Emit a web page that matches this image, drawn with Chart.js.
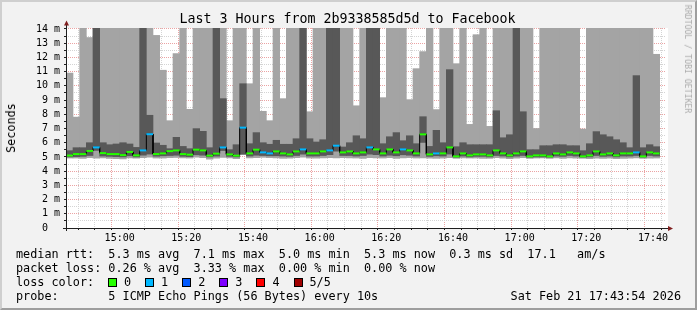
<!DOCTYPE html>
<html>
<head>
<meta charset="utf-8">
<script src="https://cdn.jsdelivr.net/npm/chart.js@4.4.1/dist/chart.umd.min.js"></script>
<style>
html,body{margin:0;padding:0;background:#f2f2f2;overflow:hidden;}
#wrap{position:relative;width:697px;height:310px;background:#f2f2f2;overflow:hidden;}
#c{position:absolute;left:0;top:0;}
.t{position:absolute;font-family:"DejaVu Sans Mono",monospace;color:#000;white-space:pre;}
.leg{font-size:11.8px;line-height:14px;}
.box{position:absolute;width:9px;height:9px;box-sizing:border-box;border:1px solid #000;}
#shade{position:absolute;left:0;top:0;width:697px;height:310px;box-sizing:border-box;border-style:solid;border-width:2px;border-color:#cfcfcf #9e9e9e #9e9e9e #cfcfcf;pointer-events:none;}
</style>
</head>
<body>
<div id="wrap">
<canvas id="c" width="697" height="310"></canvas>
<div class="t" id="title" style="left:-1px;width:697px;text-align:center;top:10.5px;font-size:13.3px;line-height:16px;">Last 3 Hours from 2b9338585d5d to Facebook</div>
<div class="t" id="ylab" style="left:11px;top:128px;font-size:11.8px;line-height:14px;transform:translate(-50%,-50%) rotate(-90deg);">Seconds</div>
<div class="t" id="wm" style="left:687.5px;top:58.5px;font-size:8.2px;line-height:10px;color:#ababab;transform:translate(-50%,-50%) rotate(90deg);">RRDTOOL / TOBI OETIKER</div>
<div class="t leg" style="left:16px;top:247.2px">median rtt:  5.3 ms avg  7.1 ms max  5.0 ms min  5.3 ms now  0.3 ms sd  17.1   am/s</div>
<div class="t leg" style="left:16px;top:261.2px">packet loss: 0.26 % avg  3.33 % max  0.00 % min  0.00 % now</div>
<div class="t leg" style="left:16px;top:275.2px">loss color:</div>
<div id="lossLegend"></div>
<div class="t leg" style="left:16px;top:289.2px">probe:       5 ICMP Echo Pings (56 Bytes) every 10s</div>
<div class="t leg" style="left:0;width:681px;text-align:right;top:289.2px">Sat Feb 21 17:43:54 2026</div>
<div id="shade"></div>
</div>
<script>
// ---------------- data (values in ms) ----------------
const STEP_MIN = 2;                      // one column = 2 minutes
const FIRST_COLUMN = '14:44';
const columnCount = 89;
const columnTimes = Array.from({length: columnCount}, (_, i) => {
  const m = 14 * 60 + 44 + STEP_MIN * i;
  return String(Math.floor(m / 60)).padStart(2, '0') + ':' + String(m % 60).padStart(2, '0');
});

// median rtt per column
const median = [
  5.10,5.20,5.20,5.42,5.67,5.27,5.20,5.20,5.13,5.35,
  5.11,5.46,6.60,5.20,5.25,5.41,5.46,5.20,5.16,5.51,
  5.46,5.09,5.23,5.67,5.18,5.09,7.06,5.25,5.51,5.32,
  5.25,5.39,5.25,5.18,5.39,5.53,5.25,5.25,5.39,5.46,
  5.79,5.32,5.39,5.25,5.32,5.67,5.53,5.25,5.53,5.32,
  5.53,5.46,5.25,6.59,5.18,5.25,5.25,5.67,5.04,5.25,
  5.11,5.18,5.18,5.11,5.46,5.25,5.11,5.25,5.39,5.04,
  5.11,5.11,5.04,5.25,5.18,5.32,5.25,5.04,5.11,5.39,
  5.18,5.25,5.11,5.25,5.25,5.32,5.04,5.32,5.25
];
// smoke: lowest ping, 2nd ping, 4th ping, highest ping (15 = beyond top of graph)
const pingLow = [
  4.92,4.92,4.90,4.95,4.92,4.93,4.90,4.88,4.86,4.93,
  4.92,4.95,4.98,4.92,4.92,4.95,4.96,4.93,4.92,4.98,
  4.95,4.85,4.92,4.96,4.93,4.88,5.15,4.93,4.95,4.97,
  4.95,4.93,4.90,4.92,4.95,4.98,4.92,4.92,4.93,4.95,
  4.93,4.95,4.93,4.92,4.90,4.95,4.93,4.92,4.95,4.90,
  4.93,4.95,4.92,4.93,4.92,4.90,4.92,4.95,4.90,4.93,
  4.92,4.92,4.90,4.90,4.95,4.92,4.88,4.92,4.95,4.90,
  4.92,4.93,4.90,4.93,4.90,4.93,4.92,4.90,4.88,4.92,
  4.90,4.92,4.88,4.90,4.92,4.93,4.90,4.92,4.92
];
const ping2 = [
  5.00,5.02,5.04,5.10,5.45,5.06,5.04,5.02,5.00,5.08,
  5.00,5.12,5.20,5.05,5.08,5.10,5.12,5.04,5.02,5.15,
  5.12,5.00,5.06,5.45,5.04,5.00,5.20,5.06,5.12,5.10,
  5.08,5.08,5.06,5.04,5.10,5.20,5.06,5.06,5.10,5.15,
  5.40,5.10,5.10,5.06,5.10,5.20,5.15,5.06,5.12,5.08,
  5.15,5.12,5.06,6.02,5.04,5.08,5.06,5.20,4.98,5.06,
  5.00,5.04,5.04,5.00,5.10,5.06,5.00,5.06,5.10,4.98,
  5.00,5.00,4.98,5.06,5.04,5.10,5.06,4.98,5.00,5.10,
  5.04,5.06,5.00,5.06,5.06,5.10,4.98,5.10,5.06
];
const ping4 = [
  5.44,5.65,5.65,6.00,15,6.00,5.86,5.91,6.00,5.91,
  5.67,15,7.93,5.98,5.82,5.58,6.38,5.74,5.58,6.99,
  6.80,5.65,15,9.10,5.51,5.86,10.15,5.93,6.71,6.00,
  5.89,6.17,5.89,5.89,6.28,15,6.28,6.05,6.21,15,
  15,5.70,6.00,6.49,6.28,15,15,5.93,6.42,6.71,
  6.14,6.49,5.93,7.83,5.74,6.87,6.00,11.14,5.72,6.00,
  5.86,5.86,5.86,5.86,8.25,6.35,6.56,15,8.18,5.51,
  5.51,5.79,5.79,5.86,5.86,5.79,5.79,5.44,5.93,6.78,
  6.56,6.42,6.21,6.00,5.65,10.72,5.65,5.86,5.72
];
const pingHigh = [
  10.9,7.8,15,13.4,15,15,15,15,15,15,
  15,15,15,13.55,11.1,7.55,12.27,15,8.35,15,
  15,15,15,15,7.55,15,15,10.15,15,8.21,
  7.55,15,9.1,15,15,15,8.18,15,15,15,
  15,15,15,8.6,15,15,15,9.17,15,15,
  15,9.03,11.21,12.41,15,8.33,15,15,11.56,15,
  7.29,13.6,15,7.15,15,15,15,15,15,15,
  7.0,15,15,15,15,15,15,6.96,15,15,
  15,15,15,15,15,15,15,15,12.22
];
// lost pings per column (0..5)
const lossCount = [
  0,0,0,0,1,0,0,0,0,0,
  0,1,1,0,0,0,0,0,0,0,
  0,0,0,1,0,0,1,0,0,1,
  1,0,0,0,0,1,0,0,0,1,
  1,0,0,0,0,1,0,0,0,0,
  1,0,0,0,0,1,0,0,0,0,
  0,0,0,0,0,0,0,0,0,0,
  0,0,0,0,0,0,0,0,0,0,
  0,0,0,0,0,1,0,0,0
];
const lossLabels = ['0','1','2','3','4','5/5'];
const lossColors = ['#26ff00','#00b8ff','#0059ff','#7e00ff','#ff0000','#a00000'];
const xTickLabels = ['15:00','15:20','15:40','16:00','16:20','16:40','17:00','17:20','17:40'];
const yTickLabels = ['0  ','1 m','2 m','3 m','4 m','5 m','6 m','7 m','8 m','9 m','10 m','11 m','12 m','13 m','14 m'];

// ---------------- helpers ----------------
const toMin = s => { const [h, m] = s.split(':').map(Number); return h * 60 + m; };
const fmt = m => String(Math.floor(m / 60)).padStart(2, '0') + ':' + String(m % 60).padStart(2, '0');
const xMin = 14 * 60 + 43 + 54 / 60;   // 14:43:54
const xMax = xMin + 180;               // 17:43:54
const colStart = columnTimes.map(toMin);
const xGrid = [];
for (let m = 14 * 60 + 45; m <= xMax; m += 5) xGrid.push(m);
const majorX = new Set(xTickLabels.map(toMin));
const yGrid = [];
for (let v = 0; v <= 14; v += 0.5) yGrid.push(v);

const MGRID = '#eba3a3';
const GRID = '#d4d4d4';

// loss legend
const ll = document.getElementById('lossLegend');
lossLabels.forEach((lab, i) => {
  const x = 108 + i * 37.1;
  const b = document.createElement('div');
  b.className = 'box';
  b.style.left = x + 'px'; b.style.top = '278.3px'; b.style.background = lossColors[i];
  ll.appendChild(b);
  const t = document.createElement('div');
  t.className = 't leg';
  t.style.left = (x + 16) + 'px'; t.style.top = '275.2px';
  t.textContent = lab;
  ll.appendChild(t);
});

const bgPlugin = {
  id: 'bg',
  beforeDraw(chart) {
    const {ctx, chartArea: a} = chart;
    ctx.save(); ctx.fillStyle = '#ffffff';
    ctx.fillRect(a.left, a.top, a.right - a.left + 2, a.bottom - a.top);
    ctx.restore();
  }
};
const axisPlugin = {
  id: 'axes',
  afterDraw(chart) {
    const {ctx, chartArea: a} = chart;
    const ax = a.left + 0.5, ay = a.bottom + 0.5;
    ctx.save();
    ctx.strokeStyle = '#1f1f1f'; ctx.lineWidth = 1;
    ctx.beginPath();
    ctx.moveTo(a.left - 3, ay); ctx.lineTo(a.right + 3, ay);
    ctx.moveTo(ax, a.bottom + 3); ctx.lineTo(ax, a.top - 3);
    ctx.stroke();
    ctx.fillStyle = '#801f1f';
    ctx.beginPath();
    ctx.moveTo(ax - 2.5, a.top - 2.5); ctx.lineTo(ax + 2.5, a.top - 2.5); ctx.lineTo(ax, a.top - 7.5);
    ctx.closePath(); ctx.fill();
    ctx.beginPath();
    ctx.moveTo(a.right + 2, ay - 2.5); ctx.lineTo(a.right + 2, ay + 2.5); ctx.lineTo(a.right + 7, ay);
    ctx.closePath(); ctx.fill();
    ctx.restore();
  }
};

const outer = columnTimes.map((t, i) => ({x: colStart[i] + STEP_MIN / 2, y: [pingLow[i], pingHigh[i]]}));
const inner = columnTimes.map((t, i) => ({x: colStart[i] + STEP_MIN / 2, y: [ping2[i], ping4[i]]}));
const stepLine = [];
const colorSegs = [];
columnTimes.forEach((t, i) => {
  const s = colStart[i];
  stepLine.push({x: s, y: median[i]}, {x: s + STEP_MIN, y: median[i]});
  colorSegs.push({x: s, y: median[i]}, {x: s + STEP_MIN, y: median[i]}, {x: s + STEP_MIN, y: null});
});

Chart.defaults.font.family = 'DejaVu Sans Mono';
new Chart(document.getElementById('c'), {
  type: 'bar',
  data: {
    datasets: [
      {type: 'bar', label: 'smoke outer', data: outer, backgroundColor: '#a4a4a4', borderWidth: 0,
       barPercentage: 1, categoryPercentage: 1, grouped: false, order: 3},
      {type: 'bar', label: 'smoke inner', data: inner, backgroundColor: '#585858', borderWidth: 0,
       barPercentage: 1, categoryPercentage: 1, grouped: false, order: 2},
      {type: 'line', label: 'median', data: stepLine, borderColor: '#000000', borderWidth: 1,
       pointRadius: 0, tension: 0, fill: false, order: 1},
      {type: 'line', label: 'loss', data: colorSegs, borderColor: lossColors[0], borderWidth: 2,
       borderCapStyle: 'butt', pointRadius: 0, tension: 0, fill: false, spanGaps: false, order: 0,
       segment: {borderColor: ctx => lossColors[lossCount[Math.floor(ctx.p0DataIndex / 3)]]}}
    ]
  },
  options: {
    responsive: false,
    animation: false,
    devicePixelRatio: 1,
    layout: {padding: {left: 0, top: 28, right: 31, bottom: 62}},
    plugins: {legend: {display: false}, title: {display: false}, tooltip: {enabled: false}},
    scales: {
      x: {
        type: 'linear', min: xMin, max: xMax, offset: false, z: 1,
        afterFit(s) { s.height = 20; },
        afterBuildTicks(s) { s.ticks = xGrid.map(v => ({value: v})); },
        ticks: {autoSkip: false, maxRotation: 0, minRotation: 0, padding: 2, color: '#000',
                font: {family: 'DejaVu Sans Mono', size: 10},
                callback: v => majorX.has(v) ? xTickLabels[xTickLabels.indexOf(fmt(v))] : ''},
        grid: {color: c => (c.tick && majorX.has(c.tick.value)) ? MGRID : GRID, lineWidth: 1,
               drawTicks: true, tickLength: 2, tickColor: '#1f1f1f'},
        border: {display: false, dash: [1, 1]}
      },
      y: {
        type: 'linear', min: 0, max: 14.07, z: 1,
        afterFit(s) { s.width = 66; },
        afterBuildTicks(s) { s.ticks = yGrid.map(v => ({value: v})); },
        ticks: {autoSkip: false, padding: 4, color: '#000',
                font: {family: 'DejaVu Sans Mono', size: 10},
                callback: v => Number.isInteger(v) ? yTickLabels[v] : ''},
        grid: {color: c => (c.tick && Number.isInteger(c.tick.value)) ? MGRID : GRID, lineWidth: 1,
               drawTicks: true, tickLength: 2, tickColor: '#1f1f1f'},
        border: {display: false, dash: [1, 1]}
      }
    }
  },
  plugins: [bgPlugin, axisPlugin]
});
</script>
</body>
</html>
